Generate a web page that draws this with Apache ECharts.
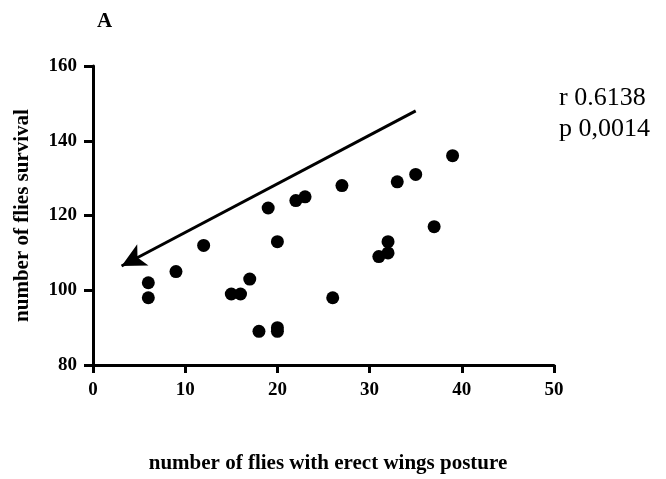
<!DOCTYPE html>
<html><head><meta charset="utf-8">
<script src="https://cdn.jsdelivr.net/npm/echarts@6/dist/echarts.min.js"></script>
<style>html,body{margin:0;padding:0;background:#fff}#c{width:666px;height:479px}</style>
</head><body><div id="c"></div>
<script>
const erectWings = [6, 6, 9, 12, 15, 16, 17, 18, 19, 20, 20, 20, 22, 23, 26, 27, 31, 32, 32, 33, 35, 37, 39];
const survival   = [102, 98, 105, 112, 99, 99, 103, 89, 122, 113, 90, 89, 124, 125, 98, 128, 109, 110, 113, 129, 131, 117, 136];
const xTicks = [0, 10, 20, 30, 40, 50];
const yTicks = [80, 100, 120, 140, 160];
const arrowFrom = [35, 148];
const arrowTo = [3.1, 106.5];
const statsLines = ['r 0.6138', 'p 0,0014'];
const panelLabel = 'A';

const serif = '"Liberation Serif","DejaVu Serif",serif';
const chart = echarts.init(document.getElementById('c'));
chart.setOption({
  animation: false,
  backgroundColor: '#fff',
  grid: { left: 93, right: 112, top: 66, bottom: 106 },
  graphic: [
    { type: 'text', left: 97, top: 11, style: { text: panelLabel, font: 'bold 21px ' + serif, fill: '#000' } },
    { type: 'text', left: 559, top: 83, style: { text: statsLines.join('\n'), font: '26px ' + serif, fill: '#000', lineHeight: 31 } }
  ],
  xAxis: {
    type: 'value', min: xTicks[0], max: xTicks[xTicks.length - 1], interval: 10,
    name: 'number of flies with erect wings posture', nameLocation: 'middle', nameGap: 88,
    nameTextStyle: { fontFamily: serif, fontWeight: 'bold', fontSize: 21, color: '#000', padding: [0, 0, 0, 9] },
    axisLine: { show: true, onZero: false, lineStyle: { color: '#000', width: 3 } },
    axisTick: { show: true, length: 8, lineStyle: { color: '#000', width: 3 } },
    axisLabel: { fontFamily: serif, fontWeight: 'bold', fontSize: 19, color: '#000', margin: 16 },
    splitLine: { show: false }
  },
  yAxis: {
    type: 'value', min: yTicks[0], max: yTicks[yTicks.length - 1], interval: 20,
    name: 'number of flies survival', nameLocation: 'middle', nameGap: 60, nameRotate: 90,
    nameTextStyle: { fontFamily: serif, fontWeight: 'bold', fontSize: 21, color: '#000' },
    axisLine: { show: true, onZero: false, lineStyle: { color: '#000', width: 3 } },
    axisTick: { show: true, length: 9, lineStyle: { color: '#000', width: 3 } },
    axisLabel: { fontFamily: serif, fontWeight: 'bold', fontSize: 19, color: '#000', margin: 16 },
    splitLine: { show: false }
  },
  series: [{
    type: 'scatter',
    data: erectWings.map((x, i) => [x, survival[i]]),
    symbolSize: 13,
    itemStyle: { color: '#000', opacity: 1 },
    markLine: {
      silent: true,
      symbol: ['none', 'arrow'],
      symbolSize: [18, 24],
      label: { show: false },
      lineStyle: { color: '#000', width: 3, type: 'solid' },
      data: [[{ coord: arrowFrom }, { coord: arrowTo }]]
    }
  }]
});
</script></body></html>
